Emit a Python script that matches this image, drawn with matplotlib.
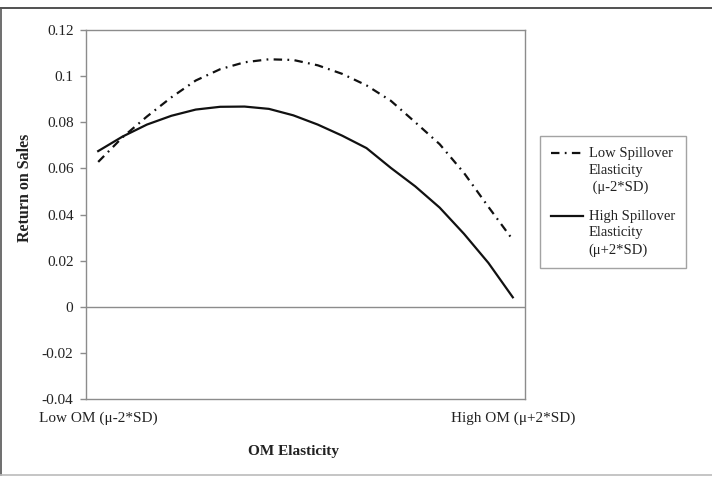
import matplotlib
matplotlib.use("Agg")
import matplotlib.pyplot as plt
from matplotlib.legend_handler import HandlerLine2D
from matplotlib.lines import Line2D

# data (18 evenly spaced OM elasticity levels)
om_levels = list(range(18))
om_ticks = [0, 17]
om_tick_labels = ["Low OM (\u03bc-2*SD)", "High OM (\u03bc+2*SD)"]

low_spill = [0.0628, 0.0735, 0.0825, 0.0908, 0.0981, 0.1030, 0.1060, 0.1073, 0.1070,
             0.1047, 0.1010, 0.0960, 0.0893, 0.0800, 0.0705, 0.0580, 0.0433, 0.0290]
high_spill = [0.0675, 0.0738, 0.0790, 0.0828, 0.0855, 0.0867, 0.0868, 0.0858, 0.0830,
              0.0790, 0.0742, 0.0688, 0.0602, 0.0522, 0.0430, 0.0316, 0.0190, 0.0041]

y_ticks = [-0.04, -0.02, 0, 0.02, 0.04, 0.06, 0.08, 0.1, 0.12]
y_tick_labels = ["-0.04", "-0.02", "0", "0.02", "0.04", "0.06", "0.08", "0.1", "0.12"]

labels = ["Low Spillover\nElasticity\n (\u03bc-2*SD)", "High Spillover\nElasticity\n(\u03bc+2*SD)"]

plt.rcParams["font.family"] = ["Liberation Serif", "DejaVu Serif"]
txt = "#222222"
grey = "#8c8c8c"


class TopLineHandler(HandlerLine2D):
    # put the legend key level with the first text line, like Excel does
    def create_artists(self, legend, orig_handle, xdescent, ydescent, width, height, fontsize, trans):
        arts = super().create_artists(legend, orig_handle, xdescent, ydescent, width, height, fontsize, trans)
        for a in arts:
            a.set_ydata([y + 1.17 * fontsize for y in a.get_ydata()])
        return arts


fig = plt.figure(figsize=(7.12, 4.82), dpi=100)
ax = fig.add_axes([86 / 712, 1 - 399 / 482, (525 - 86) / 712, (399 - 30) / 482])

l1, = ax.plot(om_levels, low_spill, color="#111111", lw=1.6,
              linestyle=(0, (3.8, 2.4, 0.8, 2.4)), label=labels[0])
l2, = ax.plot(om_levels, high_spill, color="#111111", lw=1.6, label=labels[1])

ax.axhline(0, color=grey, lw=1.0, zorder=1)

ax.set_xlim(-0.5, 17.5)
ax.set_ylim(-0.04, 0.12)
ax.set_yticks(y_ticks)
ax.set_yticklabels(y_tick_labels)
ax.set_xticks(om_ticks)
ax.set_xticklabels(om_tick_labels)

ax.tick_params(axis="y", length=4, width=1, color=grey, pad=5, labelsize=11, labelcolor=txt)
ax.tick_params(axis="x", length=0, pad=9, labelsize=11, labelcolor=txt)
for sp in ax.spines.values():
    sp.set_color(grey)
    sp.set_linewidth(1.0)

fig.text(293 / 712, 1 - 452 / 482, "OM Elasticity", ha="center", va="center",
         fontsize=11, fontweight="bold", color=txt)
fig.text(25 / 712, 1 - 188 / 482, "Return on Sales", ha="center", va="center",
         rotation=90, fontsize=11.5, fontweight="bold", color=txt)

leg = fig.legend(handles=[l1, l2], loc="upper left",
                 bbox_to_anchor=(540 / 712, 1 - 136 / 482),
                 handler_map={Line2D: TopLineHandler()},
                 fontsize=10.5, frameon=True, fancybox=False, handlelength=2.2,
                 handletextpad=0.4, labelspacing=1.1, borderpad=0.75,
                 borderaxespad=0)
leg.get_frame().set_edgecolor(grey)
leg.get_frame().set_linewidth(1.0)
for t in leg.get_texts():
    t.set_color(txt)
    t.set_linespacing(1.36)

# outer chart border
fig.add_artist(Line2D([0, 1], [1 - 8 / 482] * 2, color="#333333", lw=1.2))
fig.add_artist(Line2D([1 / 712] * 2, [1 - 8 / 482, 1 - 475 / 482], color="#555555", lw=1.2))
fig.add_artist(Line2D([0, 1], [1 - 475 / 482] * 2, color="#bbbbbb", lw=1.2))

fig.savefig("out.png", dpi=100)
